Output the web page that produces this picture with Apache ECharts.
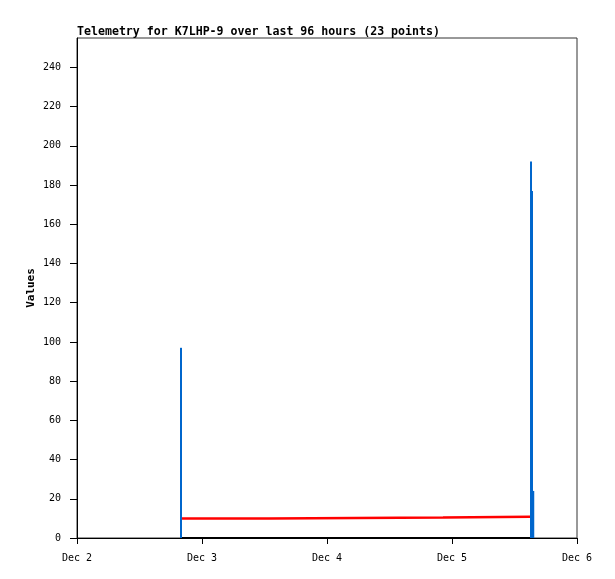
<!DOCTYPE html>
<html>
<head>
<meta charset="utf-8">
<script src="https://cdn.jsdelivr.net/npm/echarts@6/dist/echarts.min.js"></script>
<style>
html,body{margin:0;padding:0;background:#fff;}
#chart{width:615px;height:579px;}
</style>
</head>
<body>
<div id="chart"></div>
<script>
// Hours since Dec 2 00:00
const xTickLabels = ['Dec 2', 'Dec 3', 'Dec 4', 'Dec 5', 'Dec 6'];
const yTickValues = [0, 20, 40, 60, 80, 100, 120, 140, 160, 180, 200, 220, 240];

// blue impulses
const impulseHours = [19.97, 87.17, 87.36, 87.6];
const impulseValues = [97, 192, 177, 24];

// red step series
const redHours = [20.1, 36.86, 70.27, 86.98];
const redValues = [9.9, 10.4, 10.9, 10.9];

// black series at zero
const blackHours = [20.0, 87.6];
const blackValues = [0, 0];

const chart = echarts.init(document.getElementById('chart'));
const mono = 'DejaVu Sans Mono';

chart.setOption({
  animation: false,
  backgroundColor: '#fff',
  title: {
    text: 'Telemetry for K7LHP-9 over last 96 hours (23 points)',
    left: 72, top: 21,
    textStyle: { fontFamily: mono, fontSize: 11.6, fontWeight: 'bold', color: '#000' }
  },
  grid: {
    left: 77, right: 38, top: 38, bottom: 41,
    show: true, borderColor: '#333', borderWidth: 1, backgroundColor: '#fff'
  },
  xAxis: {
    type: 'value', min: 0, max: 96, interval: 24,
    splitLine: { show: false },
    axisLine: { onZero: false, lineStyle: { color: '#000', width: 1 } },
    axisTick: { show: true, length: 6, lineStyle: { color: '#000' } },
    axisLabel: {
      margin: 15, color: '#000', fontFamily: mono, fontSize: 10,
      formatter: v => xTickLabels[Math.round(v / 24)] || ''
    }
  },
  yAxis: {
    type: 'value', min: 0, max: 255, interval: 20,
    name: 'Values', nameLocation: 'middle', nameGap: 40, nameMoveOverlap: false,
    nameTextStyle: { fontFamily: mono, fontSize: 11, fontWeight: 'bold', color: '#000' },
    splitLine: { show: false },
    axisLine: { show: true, lineStyle: { color: '#000', width: 1 } },
    axisTick: { show: true, length: 7, customValues: yTickValues, lineStyle: { color: '#000' } },
    axisLabel: {
      margin: 16, color: '#000', fontFamily: mono, fontSize: 10,
      customValues: yTickValues
    }
  },
  series: [
    {
      type: 'line', step: 'end', showSymbol: false,
      data: blackHours.map((h, i) => [h, blackValues[i]]),
      lineStyle: { color: '#000', width: 2 }, z: 3
    },
    {
      type: 'line', step: 'end', showSymbol: false,
      data: redHours.map((h, i) => [h, redValues[i]]),
      lineStyle: { color: '#ff0000', width: 2.5 }, z: 4
    },
    {
      type: 'bar', barWidth: 2,
      data: impulseHours.map((h, i) => [h, impulseValues[i]]),
      itemStyle: { color: '#0066cc' }, z: 5
    }
  ]
});
</script>
</body>
</html>
